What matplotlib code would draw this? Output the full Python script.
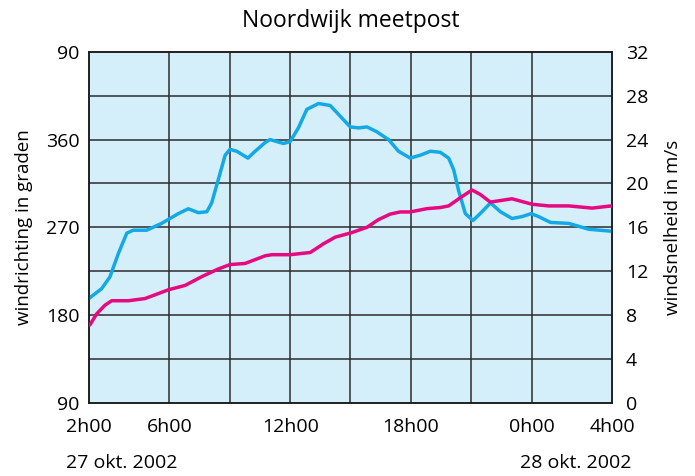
import matplotlib.pyplot as plt

plt.rcParams['font.family'] = ['Open Sans', 'DejaVu Sans']

# hours on the clock, 24+ = 28 okt.
dir_hours = [2.0, 2.63, 3.04, 3.46, 3.88, 4.2, 4.87, 5.61, 6.44, 6.94, 7.44, 7.86,
             8.1, 8.43, 8.77, 9.01, 9.35, 9.9, 10.26, 10.76, 11.0, 11.67, 12.0,
             12.41, 12.83, 13.41, 13.99, 14.49, 14.99, 15.4, 15.82, 16.31, 16.89,
             17.39, 17.97, 18.47, 18.97, 19.46, 19.88, 20.13, 20.37, 20.71, 21.09,
             21.54, 21.96, 22.45, 23.03, 23.53, 23.98, 24.35, 24.94, 25.85, 26.84, 27.96]
# wind direction (degrees, values above 360 continue past north)
direction = [197, 207, 219, 243, 264, 267, 267, 274, 284, 289, 285, 286,
             295, 319, 344, 350, 348, 341, 348, 357, 360, 356, 358,
             372, 391, 397, 395, 384, 373, 372, 373, 368, 360,
             348, 341, 344, 348, 347, 341, 329, 308, 284, 277,
             286, 295, 286, 279, 281, 284, 281, 275, 274, 268, 266]

spd_hours = [2.05, 2.38, 2.8, 3.13, 3.96, 4.79, 5.95, 6.78, 7.61, 8.43, 9.01, 9.76,
             10.76, 11.09, 12.0, 13.0, 13.66, 14.24, 15.04, 15.82, 16.39, 16.97,
             17.47, 17.97, 18.8, 19.46, 19.88, 20.46, 21.04, 21.45, 21.95, 23.03,
             24.03, 24.85, 25.85, 27.01, 27.96]
speed = [7.1, 8.1, 8.9, 9.3, 9.3, 9.5, 10.3, 10.7, 11.5, 12.2, 12.6, 12.7,
         13.4, 13.5, 13.5, 13.7, 14.5, 15.1, 15.5, 16.0, 16.7, 17.2,
         17.4, 17.4, 17.7, 17.8, 17.95, 18.7, 19.4, 19.0, 18.3, 18.6,
         18.1, 17.95, 17.95, 17.75, 17.95]

xtick_pos = [2, 6, 12, 18, 24, 28]
xtick_labels = ['2h00', '6h00', '12h00', '18h00', '0h00', '4h00']
xgrid_pos = [6, 9, 12, 15, 18, 21, 24]
dir_ticks = [90, 180, 270, 360, 450]
dir_labels = ['90', '180', '270', '360', '90']
spd_ticks = [0, 4, 8, 12, 16, 20, 24, 28, 32]

fig = plt.figure(figsize=(6.95, 4.76), dpi=100)
ax = fig.add_axes([0.128, 0.154, 0.7526, 0.737])
ax.set_facecolor('#d4eefa')
ax.set_xlim(2, 28)
ax.set_ylim(90, 450)

for x in xgrid_pos:
    ax.axvline(x, color='#2b2b2b', lw=1.1, zorder=1)
for s in spd_ticks[1:-1]:
    ax.axhline(90 + s * 11.25, color='#2b2b2b', lw=1.1, zorder=1)

ax.plot(dir_hours, direction, color='#13a9e6', lw=2.5, solid_joinstyle='round',
        solid_capstyle='round', zorder=3)

ax.set_xticks(xtick_pos)
ax.set_xticklabels(xtick_labels)
ax.set_yticks(dir_ticks)
ax.set_yticklabels(dir_labels)
ax.tick_params(length=0, labelsize=14, pad=7)
ax.tick_params(axis='x', pad=11)
ax.set_ylabel('windrichting in graden', fontsize=13.5, labelpad=9)

ax2 = ax.twinx()
ax2.set_ylim(0, 32)
ax2.set_yticks(spd_ticks)
ax2.tick_params(length=0, labelsize=14, pad=10)
ax2.plot(spd_hours, speed, color='#e6097f', lw=2.5, solid_joinstyle='round',
         solid_capstyle='round', zorder=3)
ax2.set_ylabel('windsnelheid in m/s', fontsize=13.5, labelpad=11)

for a in (ax, ax2):
    for sp in a.spines.values():
        sp.set_color('#1a1a1a')
        sp.set_linewidth(1.1)

fig.text(0.505, 0.956, 'Noordwijk meetpost', ha='center', va='center', fontsize=16.5)
fig.text(0.095, 0.027, '27 okt. 2002', ha='left', va='center', fontsize=14)
fig.text(0.909, 0.027, '28 okt. 2002', ha='right', va='center', fontsize=14)

fig.savefig('out.png', dpi=100)
